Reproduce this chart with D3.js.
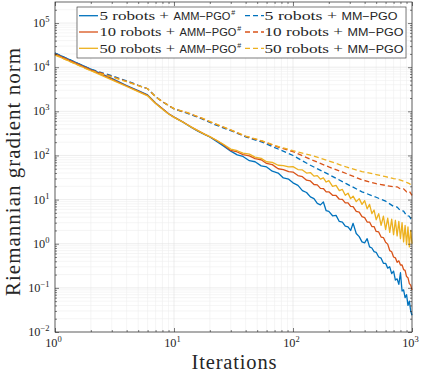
<!DOCTYPE html>
<html lang="en">
<head>
<meta charset="UTF-8">
<title>Riemannian gradient norm</title>
<script src="https://d3js.org/d3.v7.min.js"></script>
<style>
  body { margin: 0; background: #fff; }
  svg { display: block; }
</style>
</head>
<body>
<svg width="423" height="373"></svg>
<script>
// iterations used by the solid (AMM-PGO#) curves
const iters = [1,2,3,4,5,6,7,8,9,10,12,14,16,18,20,23,26,30,34,38,43,48,54,60,67,75,83,92,100,
  110,120,130,140,150,160,170,180,190,200,215,230,245,260,275,290,305,
  320,340,360,380,400,420,440,460,480,500,
  525,550,575,600,625,650,675,700,725,750,775,800,825,850,875,900,925,950,975,1000];

const amm5 = [20800,9000,5600,3850,2950,2350,1550,1150,880,740,560,430,350,300,262,
  205,165,125,103,95,76,72,58,55,44,40,31,29,24,
  21,16,14.5,11.5,10.5,8.2,7.6,8.8,5.6,5.4,4.3,4.4,3.2,3.1,2.5,2.4,2.0,
  2.9,1.7,1.45,1.1,1.05,1.3,0.85,0.80,0.66,0.64,
  0.50,0.47,0.36,0.36,0.28,0.30,0.21,0.24,0.15,0.16,0.12,0.22,0.085,0.09,0.06,0.07,0.04,0.05,0.03,0.024];

const amm10 = [20000,8700,5350,3750,2880,2300,1530,1140,880,740,565,440,360,305,265,
  215,175,130,120,104,98,85,80,66,62,50,48,43,42,
  35,33,27.5,26.5,22,21.5,18,17.8,15,15,12.5,12.4,10.2,10.1,8.4,8.4,7.0,
  6.9,5.4,5.2,4.1,3.9,3.1,3.1,2.45,2.45,1.9,
  1.85,1.42,1.38,1.08,0.98,0.70,0.66,0.50,0.48,0.38,0.41,0.33,0.33,0.26,0.25,0.18,0.17,0.125,0.115,0.09];

const amm50 = [19000,8300,5150,3650,2800,2250,1500,1120,870,730,560,440,360,305,268,
  218,180,140,128,113,107,92,86,72,70,60,59,55,56,
  48,47,40,41,34,35,29,31,25,27,20,21,16,17,12.5,14,10.5,
  12,9,10.5,7.8,9.5,6.2,7.8,4.8,5.8,3.5,
  4.8,2.6,4.2,2.1,3.8,1.8,3.6,1.6,3.4,1.5,3.2,1.3,3.0,1.1,2.6,0.95,2.4,0.85,2.0,1.0];

// iterations used by the dashed (MM-PGO) curves
const itersMM = [1,2,3,4,5,6,7,8,10,13,17,22,30,40,55,75,100,140,200,280,380,500,600,700,750,800,850,900,950,1000];

const mm5 = [20800,9000,6400,4900,3900,3250,2150,1650,1130,900,680,500,365,265,200,140,100,60,37,23,15,11.3,9.2,7.0,6.8,5.6,5.5,4.3,4.2,3.3];
const mm10 = [20000,8700,6200,4800,3850,3250,2150,1650,1150,920,700,520,375,270,210,155,122,82,55,39,28,23,21,19.5,19.5,17.5,17.5,15,15.5,12.5];
const mm50 = [19000,8300,6000,4700,3800,3250,2150,1650,1150,930,710,530,380,275,215,160,128,102,75,55,43,37,33,30,29,27.5,26,24.5,23,21];

const seriesNames = ["5 robots", "10 robots", "50 robots"];
const colors = ["#0072BD", "#D95319", "#EDB120"];

const svg = d3.select("svg");
const padL = 55, padR = 412, padT = 2, padB = 332;

const x = d3.scaleLog().domain([1, 1000]).range([padL, padR]);
const y = d3.scaleLog().domain([1e-2, 3e5]).range([padB, padT]);

// log tick helpers
function majors(dom) {
  const out = [];
  for (let e = Math.ceil(Math.log10(dom[0])); e <= Math.floor(Math.log10(dom[1]) + 1e-9); e++) out.push(Math.pow(10, e));
  return out;
}
function minors(dom) {
  const out = [];
  for (let e = Math.floor(Math.log10(dom[0])); e <= Math.floor(Math.log10(dom[1])); e++)
    for (let m = 2; m <= 9; m++) {
      const v = m * Math.pow(10, e);
      if (v > dom[0] && v < dom[1]) out.push(v);
    }
  return out;
}
const xMaj = majors(x.domain()), xMin = minors(x.domain());
const yMaj = majors(y.domain()), yMin = minors(y.domain());

// grid
const grid = svg.append("g");
grid.selectAll(".gxm").data(xMin).enter().append("line")
  .attr("x1", d => x(d)).attr("x2", d => x(d)).attr("y1", padT).attr("y2", padB)
  .attr("stroke", "#eeeeee").attr("stroke-width", 0.6);
grid.selectAll(".gym").data(yMin).enter().append("line")
  .attr("y1", d => y(d)).attr("y2", d => y(d)).attr("x1", padL).attr("x2", padR)
  .attr("stroke", "#eeeeee").attr("stroke-width", 0.6);
grid.selectAll(".gx").data(xMaj).enter().append("line")
  .attr("x1", d => x(d)).attr("x2", d => x(d)).attr("y1", padT).attr("y2", padB)
  .attr("stroke", "#e0e0e0").attr("stroke-width", 0.6);
grid.selectAll(".gy").data(yMaj).enter().append("line")
  .attr("y1", d => y(d)).attr("y2", d => y(d)).attr("x1", padL).attr("x2", padR)
  .attr("stroke", "#e0e0e0").attr("stroke-width", 0.6);

// curves
const line = d3.line().x(d => x(d[0])).y(d => y(d[1]));
const plotG = svg.append("g");
[amm5, amm10, amm50].forEach((vals, i) => {
  plotG.append("path")
    .datum(iters.map((t, k) => [t, vals[k]]))
    .attr("d", line).attr("fill", "none")
    .attr("stroke", colors[i]).attr("stroke-width", 1.3)
    .attr("stroke-linejoin", "round");
});
[mm5, mm10, mm50].forEach((vals, i) => {
  plotG.append("path")
    .datum(itersMM.map((t, k) => [t, vals[k]]))
    .attr("d", line).attr("fill", "none")
    .attr("stroke", colors[i]).attr("stroke-width", 1.3)
    .attr("stroke-dasharray", "5,3");
});

// axes with inward ticks on all four sides
const axCol = "#262626";
function styleAxis(g) {
  g.select(".domain").remove();
  g.selectAll("line").attr("stroke", axCol).attr("stroke-width", 0.6);
}
svg.append("g").attr("transform", `translate(0,${padB})`)
  .call(d3.axisBottom(x).tickValues(xMaj).tickSize(-4).tickFormat("")).call(styleAxis);
svg.append("g").attr("transform", `translate(0,${padB})`)
  .call(d3.axisBottom(x).tickValues(xMin).tickSize(-2).tickFormat("")).call(styleAxis);
svg.append("g").attr("transform", `translate(0,${padT})`)
  .call(d3.axisTop(x).tickValues(xMaj).tickSize(-4).tickFormat("")).call(styleAxis);
svg.append("g").attr("transform", `translate(0,${padT})`)
  .call(d3.axisTop(x).tickValues(xMin).tickSize(-2).tickFormat("")).call(styleAxis);
svg.append("g").attr("transform", `translate(${padL},0)`)
  .call(d3.axisLeft(y).tickValues(yMaj).tickSize(-4).tickFormat("")).call(styleAxis);
svg.append("g").attr("transform", `translate(${padL},0)`)
  .call(d3.axisLeft(y).tickValues(yMin).tickSize(-2).tickFormat("")).call(styleAxis);
svg.append("g").attr("transform", `translate(${padR},0)`)
  .call(d3.axisRight(y).tickValues(yMaj).tickSize(-4).tickFormat("")).call(styleAxis);
svg.append("g").attr("transform", `translate(${padR},0)`)
  .call(d3.axisRight(y).tickValues(yMin).tickSize(-2).tickFormat("")).call(styleAxis);

svg.append("rect").attr("x", padL).attr("y", padT)
  .attr("width", padR - padL).attr("height", padB - padT)
  .attr("fill", "none").attr("stroke", axCol).attr("stroke-width", 0.7);

// tick labels 10^k
const serif = "'Liberation Serif', 'Times New Roman', serif";
function powLabel(g, e) {
  g.append("tspan").text("10");
  g.append("tspan").attr("dy", -5).attr("font-size", 8.5).text(e < 0 ? "\u2212" + (-e) : e);
}
xMaj.forEach(v => {
  const t = svg.append("text").attr("x", x(v) - 1.5).attr("y", 346.5)
    .attr("text-anchor", "middle").attr("font-family", serif).attr("font-size", 12.3)
    .attr("fill", axCol);
  powLabel(t, Math.round(Math.log10(v)));
});
yMaj.forEach(v => {
  const t = svg.append("text").attr("x", 49.5).attr("y", y(v) + 4)
    .attr("text-anchor", "end").attr("font-family", serif).attr("font-size", 12.3)
    .attr("fill", axCol);
  powLabel(t, Math.round(Math.log10(v)));
});

// axis titles
svg.append("text").attr("x", 234).attr("y", 369).attr("text-anchor", "middle")
  .attr("font-family", serif).attr("font-size", 20.5).attr("fill", axCol)
  .attr("textLength", 85).attr("lengthAdjust", "spacing").text("Iterations");
svg.append("text").attr("transform", "translate(19.5,172) rotate(-90)")
  .attr("text-anchor", "middle").attr("font-family", serif).attr("font-size", 21)
  .attr("fill", axCol).attr("textLength", 248).attr("lengthAdjust", "spacing")
  .text("Riemannian gradient norm");

// legend
const sans = "'Liberation Sans', Arial, sans-serif";
const leg = svg.append("g");
leg.append("rect").attr("x", 77).attr("y", 7).attr("width", 329).attr("height", 51)
  .attr("fill", "#fff").attr("stroke", axCol).attr("stroke-width", 0.6);
const rowY = [15.7, 32, 48.3];
const cols = [
  { x0: 79, x1: 98, tx: 99.5, method: "AMM\u2212PGO", sup: true, dash: null, sw: [74, 80], mw: 57 },
  { x0: 245, x1: 264, tx: 264.5, method: "MM\u2212PGO", sup: false, dash: "5,3", sw: [77, 83], mw: 56 }
];
cols.forEach(c => {
  seriesNames.forEach((name, i) => {
    const by = rowY[i] + 4.4;
    const serifW = name.length === 8 ? c.sw[0] : c.sw[1];
    leg.append("line").attr("x1", c.x0).attr("x2", c.x1)
      .attr("y1", rowY[i]).attr("y2", rowY[i])
      .attr("stroke", colors[i]).attr("stroke-width", 1.3)
      .attr("stroke-dasharray", c.dash);
    leg.append("text").attr("x", c.tx).attr("y", by)
      .attr("fill", axCol).attr("font-size", 13).attr("font-family", serif)
      .attr("textLength", serifW - 4.5).attr("lengthAdjust", "spacingAndGlyphs")
      .text(name + " +");
    leg.append("text").attr("x", c.tx + serifW).attr("y", by)
      .attr("fill", axCol).attr("font-size", 11.5).attr("font-family", sans)
      .attr("textLength", c.mw).attr("lengthAdjust", "spacingAndGlyphs")
      .text(c.method);
    if (c.sup) leg.append("text").attr("x", c.tx + serifW + c.mw + 0.8).attr("y", by - 5)
      .attr("fill", axCol).attr("font-size", 7).attr("font-family", sans).text("#");
  });
});
</script>
</body>
</html>
